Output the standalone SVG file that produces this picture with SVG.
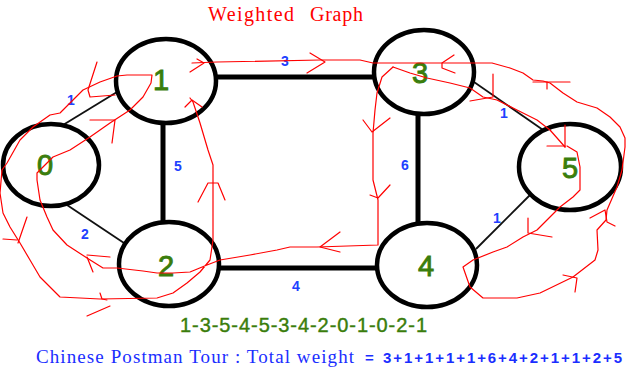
<svg xmlns="http://www.w3.org/2000/svg" width="631" height="381" viewBox="0 0 631 381">
<style>
.node{fill:#fff;stroke:#000;stroke-width:4.5}
.nl{font-family:"Liberation Sans",Arial,sans-serif;font-size:29px;fill:#3a7d0c;stroke:#3a7d0c;stroke-width:0.9;text-anchor:middle}
.thick{stroke:#000;stroke-width:5;fill:none}
.thin{stroke:#111;stroke-width:1.8;fill:none}
.wl{font-family:"Liberation Sans",Arial,sans-serif;font-size:14px;font-weight:bold;fill:#2040ff;text-anchor:middle}
.tour{fill:none;stroke:#ff0000;stroke-width:1.2;stroke-linejoin:round;stroke-linecap:round}
.title{font-family:"Liberation Serif",serif;font-size:20px;fill:#ff0000}
</style>
<rect width="631" height="381" fill="#fff"/>
<text class="title" x="208" y="21" textLength="86" lengthAdjust="spacing">Weighted</text>
<text class="title" x="310" y="21" textLength="53" lengthAdjust="spacing">Graph</text>
<g id="edges">
<line class="thick" x1="163" y1="120" x2="163" y2="225"/>
<line class="thick" x1="212" y1="77" x2="378" y2="77"/>
<line class="thick" x1="215" y1="268" x2="381" y2="268"/>
<line class="thick" x1="418" y1="110" x2="418" y2="227"/>
<line class="thin" x1="63" y1="125" x2="117" y2="92"/>
<line class="thin" x1="67" y1="205" x2="124" y2="243"/>
<line class="thin" x1="474" y1="82" x2="546" y2="132"/>
<line class="thin" x1="476" y1="249" x2="532" y2="193"/>
<text class="wl" x="71" y="105">1</text>
<text class="wl" x="85" y="239">2</text>
<text class="wl" x="178" y="171">5</text>
<text class="wl" x="285" y="66">3</text>
<text class="wl" x="296" y="291">4</text>
<text class="wl" x="405" y="170">6</text>
<text class="wl" x="504" y="118">1</text>
<text class="wl" x="497" y="223">1</text>
</g>
<g id="n0"><ellipse class="node" cx="51" cy="165" rx="48" ry="41"/><text class="nl" x="45" y="175">0</text></g>
<g id="n1"><ellipse class="node" cx="166" cy="81" rx="50" ry="42"/><text class="nl" x="161" y="90">1</text></g>
<g id="n2"><ellipse class="node" cx="169" cy="264" rx="50" ry="42"/><text class="nl" x="166" y="276">2</text></g>
<g id="n3"><ellipse class="node" cx="424" cy="72" rx="50" ry="42"/><text class="nl" x="420" y="83">3</text></g>
<g id="n4"><ellipse class="node" cx="427" cy="265" rx="50" ry="42"/><text class="nl" x="426" y="276">4</text></g>
<g id="n5"><ellipse class="node" cx="570" cy="167" rx="51" ry="43"/><text class="nl" x="570" y="178">5</text></g>
<g id="tour">
<polyline class="tour" points="192,63 217,62 320,60 360,60 373,63 410,63 473,63 492,63 510,68 523,73 533,80 543,81 550,83 563,93 577,102 597,108 610,117 620,127 625,138 625,147 622,170 617,187 607,210 606,220 597,230 598,250 595,260 573,277 540,293 517,298 483,298 470,287 463,267 473,260 493,252 507,247 523,237 537,230 560,207 573,197 580,190 580,167 577,152 567,146"/>
<polyline class="tour" points="393,67 410,73 427,78 450,83 470,88 483,97 497,100 517,110 537,120 550,130 565,147"/>
<polyline class="tour" points="393,67 382,77 377,93 375,110 373,133 373,180 378,200 378,245 317,247 290,247 277,250 250,255 220,260 207,265 190,272 173,273 157,273 143,271 117,268 103,268 87,258 67,245 53,230 47,217 40,200 37,180 37,173 43,167 53,157 70,150 90,137 110,123 130,110 143,97 151,83 152,75 127,75 117,76 100,82 83,90 70,103 60,113 50,115 33,127 20,140 7,163 2,170 0,193 3,213 10,227 20,243 30,260 40,277 60,297 100,299 157,298 173,293 187,283 200,272 210,260 213,240 213,165 208,150 200,123 193,102 190,98"/>
<polyline class="tour" points="197,59 204,63 190,72"/>
<polyline class="tour" points="310,53 325,62 307,73"/>
<polyline class="tour" points="454,55 442,63 442,68 455,73"/>
<polyline class="tour" points="533,82 570,82"/>
<polyline class="tour" points="547,82 547,89"/>
<polyline class="tour" points="493,74 493,97 470,101"/>
<polyline class="tour" points="547,146 565,146"/>
<polyline class="tour" points="565,125 565,147"/>
<polyline class="tour" points="590,218 605,210 607,222 615,226"/>
<polyline class="tour" points="563,275 577,278 575,292"/>
<polyline class="tour" points="528,218 528,233 552,237"/>
<polyline class="tour" points="363,120 372,132 390,118"/>
<polyline class="tour" points="370,195 378,198 390,185"/>
<polyline class="tour" points="340,232 320,247 340,252"/>
<polyline class="tour" points="198,202 208,183 218,183 225,200"/>
<polyline class="tour" points="185,107 192,100 202,107"/>
<polyline class="tour" points="97,62 88,90 90,97 115,95"/>
<polyline class="tour" points="90,120 115,120 112,143"/>
<polyline class="tour" points="87,255 110,257"/>
<polyline class="tour" points="87,257 93,272"/>
<polyline class="tour" points="100,293 102,299 107,300"/>
<polyline class="tour" points="87,316 110,306"/>
<polyline class="tour" points="3,239 17,240"/>
<polyline class="tour" points="27,217 18,243"/>
</g>
<text x="180" y="332" font-family="Liberation Sans,Arial,sans-serif" font-size="20" fill="#3a7d0c" stroke="#3a7d0c" stroke-width="0.4" textLength="247" lengthAdjust="spacing">1-3-5-4-5-3-4-2-0-1-0-2-1</text>
<text x="36" y="363" font-family="Liberation Serif,serif" font-size="19" fill="#1a2eff" textLength="318" lengthAdjust="spacing">Chinese Postman Tour : Total weight</text>
<text x="365" y="363" font-family="Liberation Sans,Arial,sans-serif" font-size="15" font-weight="bold" fill="#1a2eff">=</text>
<text x="383" y="363" font-family="Liberation Sans,Arial,sans-serif" font-size="15" font-weight="bold" fill="#1a2eff" textLength="239" lengthAdjust="spacing">3+1+1+1+1+6+4+2+1+1+2+5</text>
</svg>
